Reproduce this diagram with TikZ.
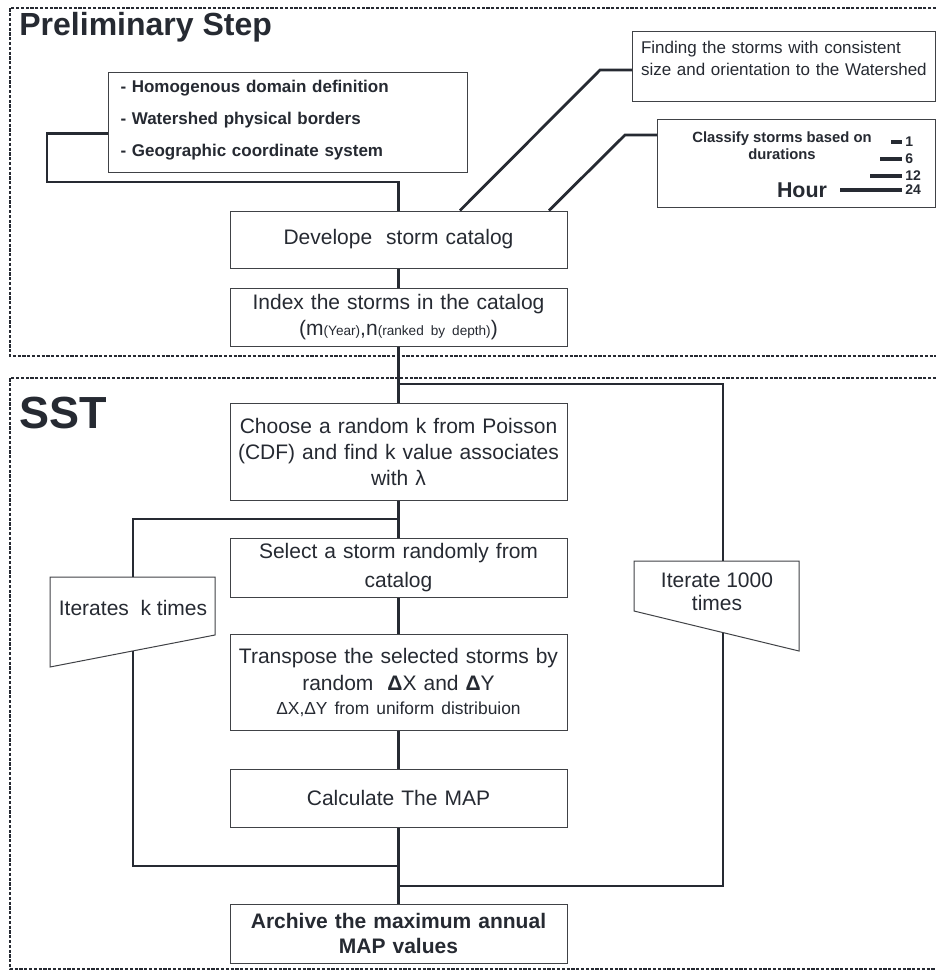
\documentclass[tikz,border=0pt]{standalone}
\usepackage{fontspec}
\setmainfont{Liberation Sans}
\usetikzlibrary{calc}
\definecolor{ink}{RGB}{38,42,50}
\definecolor{frame}{RGB}{64,66,70}

\begin{document}
\begin{tikzpicture}[x=0.5pt, y=-0.5pt, color=ink,
	box/.style={draw=frame, line width=0.5pt, fill=white, minimum width=168.5pt, text width=166pt,
		align=center, inner sep=0pt, font=\fontsize{10.5}{13.5}\selectfont},
	note/.style={draw=frame, line width=0.5pt, fill=white, inner sep=0pt},
	flow/.style={draw=ink, line width=1.4pt},
	region/.style={draw=ink, line width=0.7pt, dash pattern=on 1.6pt off 0.8pt},
	heading/.style={inner sep=0pt, font=\bfseries\fontsize{16}{18}\selectfont},
	bar/.style={draw=ink, line width=2pt},
	dur/.style={inner sep=0pt, anchor=west, font=\bfseries\fontsize{7}{8}\selectfont}]
	\useasboundingbox (0,0) rectangle (936,971);

	% the two stages
	\draw[region] (936,8) -- (10,8) -- (10,356) -- (936,356);
	\draw[region] (936,378) -- (10,378) -- (10,969) -- (936,969);
	\node[heading, anchor=base west] (prelim) at (19,35) {Preliminary Step};
	\node[heading, anchor=base west, font=\bfseries\fontsize{22.5}{24}\selectfont] (sst) at (19,428) {SST};

	% preliminary step
	\node[note, anchor=north west, minimum width=179.5pt, minimum height=50pt, text width=167.5pt,
		inner xsep=6pt, align=left, font=\bfseries\fontsize{8.5}{16}\selectfont] (domain) at (108,72)
		{- Homogenous domain definition\\- Watershed physical borders\\- Geographic coordinate system\\[-12pt]\mbox{}};
	\node[box, minimum height=28.5pt] (catalog) at (398.5,239.5) {Develope~ storm catalog};
	\node[box, minimum height=29pt, font=\fontsize{10.5}{13}\selectfont] (index) at (398.5,317)
		{Index the storms in the catalog\\(m{\fontsize{6.8}{7}\selectfont(Year)},n{\fontsize{6.8}{7}\selectfont(ranked by depth)})};
	\node[note, anchor=north west, minimum width=151.5pt, minimum height=35pt, text width=143pt,
		inner xsep=4.25pt, align=left, font=\fontsize{8.5}{11}\selectfont] (finding) at (632,31)
		{Finding the storms with consistent\\size and orientation to the Watershed\\[-3pt]\mbox{}};
	\node[note, anchor=north west, minimum width=139pt, minimum height=44pt] (classify) at (657,119) {};
	\node[inner sep=0pt, align=center, font=\bfseries\fontsize{7.4}{8.5}\selectfont] (classtext) at (782,146)
		{Classify storms based on\\durations};
	\node[inner sep=0pt, font=\bfseries\fontsize{10.7}{12}\selectfont] (hour) at (802,190) {Hour};
	\foreach \h/\x/\y in {1/891/142, 6/880/159, 12/870/176, 24/840/190} {
		\draw[bar] (\x,\y) -- (902,\y);
		\node[dur] (dur\h) at (905,\y) {\h};
	}

	% links of the preliminary step
	\coordinate (dbend) at (47,182);
	\coordinate (fbend) at (600,70);
	\coordinate (cbend) at (625,135);
	\draw[flow] ($(domain.west)+(0,11)$) -| (dbend) -| (catalog.north);
	\draw[flow] ([xshift=30.75pt]catalog.north) -- (fbend) -- (fbend -| finding.west);
	\draw[flow] ([xshift=75.25pt]catalog.north) -- (cbend) -- (cbend -| classify.west);
	\draw[flow] (catalog.south) -- (index.north);

	% SST
	\node[box, minimum height=48.5pt, font=\fontsize{10.5}{13}\selectfont] (choose) at (398.5,451.5)
		{Choose a random k from Poisson\\(CDF) and find k value associates\\with λ};
	\node[box, minimum height=29.5pt, font=\fontsize{10.5}{14.5}\selectfont] (select) at (398.5,567.5)
		{Select a storm randomly from\\catalog};
	\node[box, minimum height=48pt] (transpose) at (398.5,682)
		{Transpose the selected storms by\\random~ {\bfseries Δ}X and {\bfseries Δ}Y\\[-1.5pt]{\fontsize{8.7}{10}\selectfont ΔX,ΔY from uniform distribuion}};
	\node[box, minimum height=29pt] (calc) at (398.5,798) {Calculate The MAP};
	\node[box, minimum height=29.5pt, font=\bfseries\fontsize{10.5}{12.5}\selectfont] (archive) at (398.5,933.5)
		{Archive the maximum annual\\MAP values};

	% loop shapes
	\draw[note] (50,577) -- (215,577) -- (215,635) -- (50,667) -- cycle;
	\node[inner sep=0pt, font=\fontsize{10.5}{11.5}\selectfont] (iterk) at (133,608) {Iterates~ k times};
	\draw[note] (634,561) -- (799,561) -- (799,651) -- (634,611) -- cycle;
	\node[inner sep=0pt, align=center, font=\fontsize{10.5}{11.5}\selectfont] (itern) at (717,591.5) {Iterate 1000\\times};
	\coordinate (kin) at (133,577);
	\coordinate (kout) at (133,651);
	\coordinate (nin) at (723,561);
	\coordinate (nout) at (723,632.5);
	\coordinate (ksplit) at (398.5,519);
	\coordinate (kjoin) at (398.5,866);
	\coordinate (nsplit) at (398.5,384);
	\coordinate (njoin) at (398.5,886);

	% links of SST
	\draw[flow] (index.south) -- (choose.north);
	\draw[flow] (choose.south) -- (select.north);
	\draw[flow] (select.south) -- (transpose.north);
	\draw[flow] (transpose.south) -- (calc.north);
	\draw[flow] (calc.south) -- (archive.north);
	\draw[flow] (ksplit) -| (kin);
	\draw[flow] (kout) |- (kjoin);
	\draw[flow] (nsplit) -| (nin);
	\draw[flow] (nout) |- (njoin);
\end{tikzpicture}
\end{document}
